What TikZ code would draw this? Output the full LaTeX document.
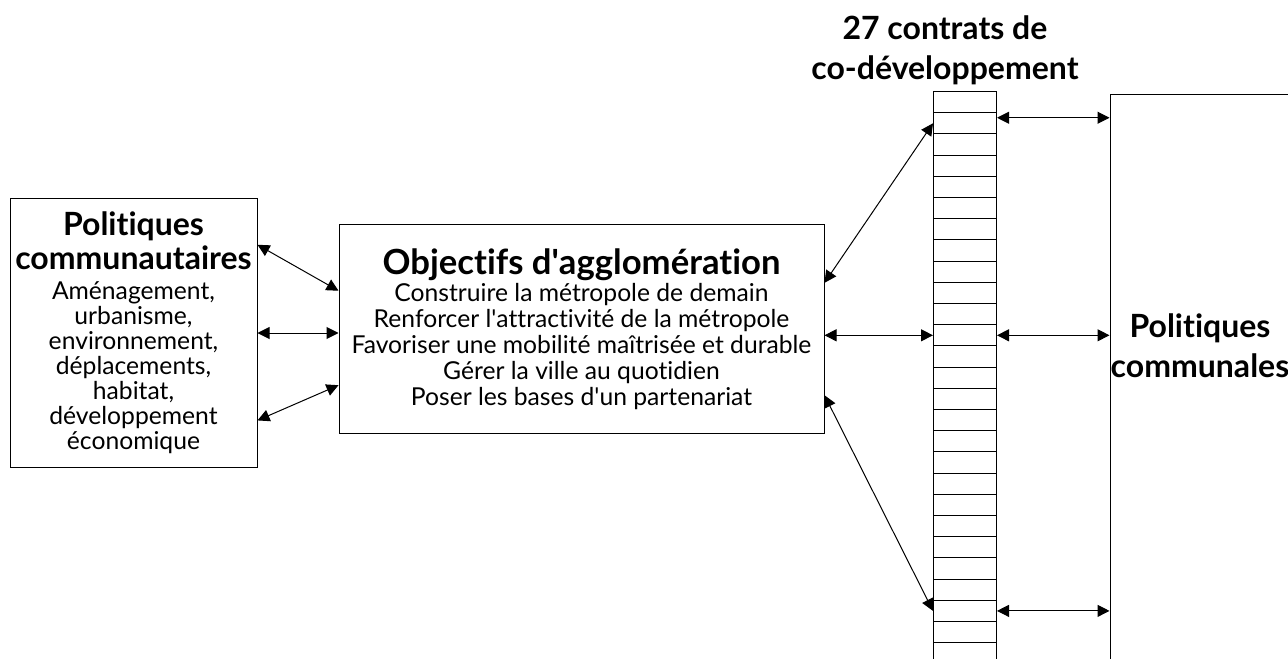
\documentclass[tikz,border=0pt]{standalone}
\usepackage{fontspec}
\setmainfont{Lato}[Ligatures={NoCommon,NoDiscretionary}]
\usetikzlibrary{arrows.meta,calc}

\newcommand{\ttlfont}{\bfseries\fontsize{24}{30}\selectfont}
\newcommand{\bigttlfont}{\bfseries\fontsize{26}{28}\selectfont}
\newcommand{\txtfont}{\fontsize{18.5}{19.5}\selectfont}
\newcommand{\lstfont}{\fontsize{18.5}{18.75}\selectfont}

\tikzset{every picture/.style={line width=0.75pt}}
\tikzset{
	box/.style={draw, inner sep=0pt, align=center},
	cell/.style={draw, inner sep=0pt, minimum width=47.25pt, minimum height=15.9pt, anchor=north},
	biarrow/.style={{Triangle[length=9pt,width=9pt]}-{Triangle[length=9pt,width=9pt]}}}

\begin{document}
\begin{tikzpicture}[x=0.75pt,y=0.75pt,yscale=-1,xscale=1]
	\clip (0,0) rectangle (1288,659); %diagram of 1288 x 659

	%Shape: Rectangle [id:lbox] 
	\node [box, minimum width=185.25pt, minimum height=201pt, font=\lstfont] (lbox) at (133.5,333) {{\ttlfont Politiques}\\[2.5pt]{\ttlfont communautaires}\\[3.75pt]Aménagement,\\urbanisme,\\environnement,\\déplacements,\\habitat,\\développement\\économique};
	%Shape: Rectangle [id:cbox] 
	\node [box, minimum width=363.75pt, minimum height=156pt, font=\txtfont] (cbox) at (581.5,329) {{\bigttlfont Objectifs d\textquotesingle agglomération}\\[1pt]Construire la métropole de demain\\Renforcer l\textquotesingle attractivité de la métropole\\Favoriser une mobilité maîtrisée et durable\\Gérer la ville au quotidien\\Poser les bases d\textquotesingle un partenariat};
	%Shape: Rectangle [id:rbox] 
	\node [box, minimum width=142.5pt, minimum height=453.75pt] (rbox) at (1205,397.5) {};
	%Shape: Column of 27 cells
	\foreach \i in {0,...,26}
		\node [cell] (c\i) at (965,{91+21.2*\i}) {};

	% Text Node
	\node [align=center, font=\ttlfont] (ctitle) at (945,50) {27 contrats de\\co-développement};
	% Text Node
	\node [align=center, font=\ttlfont] (rtitle) at (1200,346) {Politiques\\communales};

	%Straight Lines 
	\draw [biarrow] ($(lbox.north east)!0.172!(lbox.south east)$) -- ($(cbox.north west)!0.317!(cbox.south west)$) ;
	\draw [biarrow] (lbox.east) -- (lbox.east -| cbox.west) ;
	\draw [biarrow] ($(lbox.north east)!0.825!(lbox.south east)$) -- ($(cbox.north west)!0.769!(cbox.south west)$) ;
	%Straight Lines 
	\draw [biarrow] ($(cbox.north east)!0.279!(cbox.south east)$) -- (c1.west) ;
	\draw [biarrow] (cbox.east |- c11.west) -- (c11.west) ;
	\draw [biarrow] ($(cbox.north east)!0.817!(cbox.south east)$) -- (c24.west) ;
	%Straight Lines 
	\draw [biarrow] ($(c1.north east)!0.25!(c1.south east)$) coordinate (t1) -- (t1 -| rbox.west) ;
	\draw [biarrow] (c11.east) -- (c11.east -| rbox.west) ;
	\draw [biarrow] (c24.east) -- (c24.east -| rbox.west) ;

\end{tikzpicture}
\end{document}
